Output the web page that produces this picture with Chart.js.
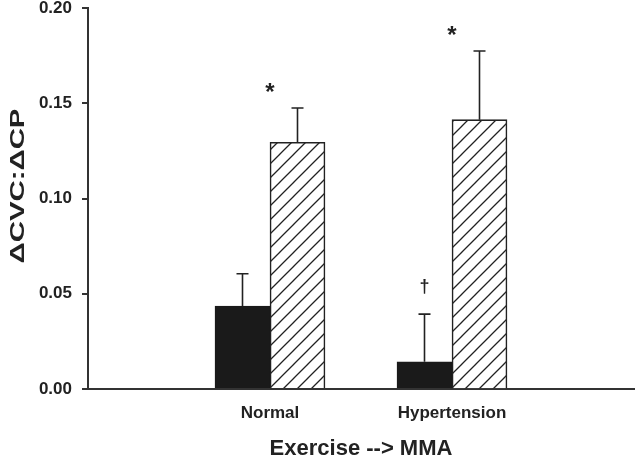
<!DOCTYPE html>
<html>
<head>
<meta charset="utf-8">
<script src="https://cdn.jsdelivr.net/npm/chart.js@4/dist/chart.umd.min.js"></script>
<style>
  html, body { margin: 0; padding: 0; background: #fff; }
  #wrap { width: 635px; height: 466px; }
</style>
</head>
<body>
<div id="wrap"><canvas id="cvcChart"></canvas></div>
<script>
// data
const categories = ['Normal', 'Hypertension'];
const solidMeans = [0.0435, 0.0143];
const solidErrors = [0.017, 0.025];
const hatchedMeans = [0.1295, 0.1414];
const hatchedErrors = [0.018, 0.036];
const solidMarks = ['', '\u2020'];
const groupMarks = ['*', '*'];
const yTicks = [0, 0.05, 0.10, 0.15, 0.20];

const ink = '#222';
const FONT = 'Liberation Sans, Arial, sans-serif';

// empty slots either side so the two groups sit at 1/3 and 2/3 of the axis
const labels = ['', ...categories, ''];
const pad = arr => [null, ...arr, null];

function hatchPattern() {
    const c = document.createElement('canvas');
    c.width = 14; c.height = 14;
    const g = c.getContext('2d');
    g.fillStyle = '#fff';
    g.fillRect(0, 0, 14, 14);
    g.strokeStyle = ink;
    g.lineWidth = 1.3;
    g.beginPath();
    g.moveTo(-7, 7); g.lineTo(7, -7);
    g.moveTo(0, 14); g.lineTo(14, 0);
    g.moveTo(7, 21); g.lineTo(21, 7);
    g.stroke();
    return g.createPattern(c, 'repeat');
}

// up-only error bars plus the significance marks
const errorBars = {
    id: 'errorBars',
    afterDatasetsDraw(chart) {
        const ctx = chart.ctx;
        const y = chart.scales.y;
        const errs = [solidErrors, hatchedErrors];
        const tops = [[], []];
        ctx.save();
        ctx.strokeStyle = ink;
        ctx.lineWidth = 1.6;
        chart.data.datasets.forEach((ds, di) => {
            const meta = chart.getDatasetMeta(di);
            categories.forEach((cat, ci) => {
                const bar = meta.data[ci + 1];
                const top = y.getPixelForValue(ds.data[ci + 1] + errs[di][ci]);
                const base = y.getPixelForValue(ds.data[ci + 1]);
                tops[di][ci] = { x: bar.x, top: top };
                ctx.beginPath();
                ctx.moveTo(bar.x, base);
                ctx.lineTo(bar.x, top);
                ctx.moveTo(bar.x - 6, top);
                ctx.lineTo(bar.x + 6, top);
                ctx.stroke();
            });
        });
        ctx.fillStyle = ink;
        ctx.textAlign = 'center';
        ctx.textBaseline = 'alphabetic';
        categories.forEach((cat, ci) => {
            const cx = chart.scales.x.getPixelForValue(ci + 1);
            const highest = Math.min(tops[0][ci].top, tops[1][ci].top);
            if (groupMarks[ci]) {
                ctx.font = 'bold 24px ' + FONT;
                ctx.fillText(groupMarks[ci], cx, highest - 8);
            }
            if (solidMarks[ci]) {
                ctx.font = 'bold 18px ' + FONT;
                ctx.fillText(solidMarks[ci], tops[0][ci].x, tops[0][ci].top - 22);
            }
        });
        ctx.restore();
    }
};

// the y title in the figure is set wide, so draw it stretched
const yTitle = {
    id: 'yTitle',
    afterDraw(chart) {
        const ctx = chart.ctx;
        ctx.save();
        ctx.translate(18, 186);
        ctx.rotate(-Math.PI / 2);
        ctx.scale(1.4, 1);
        ctx.font = 'bold 21px ' + FONT;
        ctx.fillStyle = ink;
        ctx.textAlign = 'center';
        ctx.textBaseline = 'middle';
        ctx.fillText('\u0394CVC:\u0394CP', 0, 0);
        ctx.restore();
    }
};

new Chart(document.getElementById('cvcChart'), {
    type: 'bar',
    data: {
        labels: labels,
        datasets: [{
            data: pad(solidMeans),
            backgroundColor: '#1a1a1a',
            borderColor: '#1a1a1a',
            borderWidth: 1,
            barThickness: 55
        }, {
            data: pad(hatchedMeans),
            backgroundColor: hatchPattern(),
            borderColor: ink,
            borderWidth: 1.6,
            barThickness: 55
        }]
    },
    options: {
        responsive: true,
        maintainAspectRatio: false,
        animation: false,
        layout: { padding: { top: 8, right: 1, left: 0, bottom: 0 } },
        plugins: {
            legend: { display: false },
            tooltip: { enabled: false }
        },
        scales: {
            x: {
                offset: false,
                grid: { display: false, drawTicks: false },
                border: { display: true, color: '#333', width: 2 },
                ticks: {
                    color: ink,
                    padding: 14,
                    maxRotation: 0,
                    font: { family: FONT, size: 17, weight: 'bold' }
                },
                title: {
                    display: true,
                    text: 'Exercise --> MMA',
                    color: ink,
                    padding: { top: 0, bottom: 4 },
                    font: { family: FONT, size: 22, weight: 'bold' }
                },
                afterFit(scale) {
                    scale.height = 77;
                    scale.paddingLeft = 0;
                    scale.paddingRight = 0;
                }
            },
            y: {
                min: 0,
                max: 0.2,
                afterBuildTicks(scale) { scale.ticks = yTicks.map(v => ({ value: v })); },
                grid: { drawOnChartArea: false, drawTicks: true, tickLength: 6, color: '#333', lineWidth: 2 },
                border: { display: true, color: '#333', width: 2 },
                ticks: {
                    color: ink,
                    padding: 10,
                    font: { family: FONT, size: 17, weight: 'bold' },
                    callback: v => v.toFixed(2)
                },
                afterFit(scale) {
                    scale.width = 88;
                    scale.paddingTop = 0;
                    scale.paddingBottom = 0;
                }
            }
        }
    },
    plugins: [errorBars, yTitle]
});
</script>
</body>
</html>
